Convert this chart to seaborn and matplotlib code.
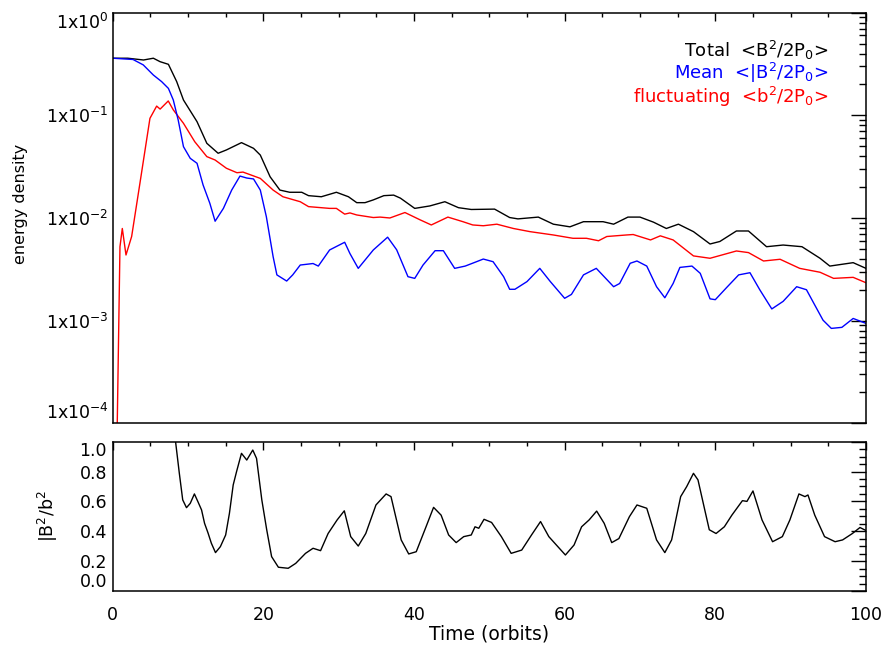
import numpy as np
import matplotlib
matplotlib.use("Agg")
import matplotlib.pyplot as plt
import seaborn as sns
from matplotlib.ticker import FixedLocator, MultipleLocator, LogLocator, FuncFormatter, NullFormatter

sns.set_theme(style="white")
plt.rcParams['font.family'] = ['DejaVu Sans']
plt.rcParams['mathtext.fontset'] = 'dejavusans'
plt.rcParams['text.color'] = 'black'
plt.rcParams['axes.labelcolor'] = 'black'
plt.rcParams['xtick.color'] = 'black'
plt.rcParams['ytick.color'] = 'black'

# ---------------- data ----------------
t_total = [0, 2, 4.1, 5.4, 6.3, 7.4, 8.5, 9.4, 11.2, 12.5, 14.0, 15.1, 17.1, 18.7, 19.6,
           20.9, 22.2, 23.5, 25.1, 26.0, 27.7, 29.7, 31.3, 32.4, 33.5, 34.6, 36.0, 37.3,
           38.2, 40.1, 42.1, 44.1, 45.9, 47.6, 50.7, 52.7, 53.8, 56.5, 58.5, 60.7, 62.5,
           65.1, 66.5, 68.4, 70.0, 71.8, 73.5, 75.1, 77.1, 79.3, 80.6, 82.8, 84.4, 86.8,
           89.0, 91.5, 93.9, 95.2, 98.3, 100]
total = [0.36, 0.36, 0.346, 0.36, 0.333, 0.314, 0.213, 0.141, 0.0867, 0.0534, 0.0427, 0.046,
         0.0542, 0.0477, 0.041, 0.0252, 0.0187, 0.0178, 0.0178, 0.0165, 0.0161, 0.0178,
         0.0161, 0.0141, 0.0141, 0.015, 0.0165, 0.0167, 0.0156, 0.0124, 0.0131, 0.0144,
         0.0126, 0.0121, 0.0122, 0.0101, 0.0098, 0.0102, 0.0087, 0.0082, 0.0092, 0.0092,
         0.0087, 0.0102, 0.0102, 0.0091, 0.0079, 0.0087, 0.00736, 0.00558, 0.0059, 0.00747,
         0.00747, 0.00525, 0.00545, 0.00525, 0.00405, 0.0034, 0.00367, 0.00323]

t_mean = [0, 2.7, 4.06, 5.4, 6.5, 7.4, 8.05, 8.7, 9.4, 10.3, 11.2, 12.0, 12.9, 13.6, 14.7,
          15.8, 16.9, 17.8, 18.7, 19.6, 20.4, 21.3, 21.8, 23.1, 23.9, 24.9, 26.6, 27.3,
          28.8, 30.8, 31.5, 32.6, 34.6, 36.5, 37.7, 39.2, 40.1, 41.2, 42.8, 43.9, 45.4,
          46.8, 48.3, 49.2, 50.5, 51.9, 52.7, 53.4, 55.0, 56.7, 58.1, 60.0, 60.9, 62.5,
          64.2, 66.5, 67.3, 68.7, 69.6, 70.9, 72.2, 73.3, 74.4, 75.3, 76.9, 78.0, 79.3,
          80.0, 81.5, 83.1, 84.6, 85.9, 87.5, 89.0, 90.8, 92.1, 93.2, 94.3, 95.4, 96.8,
          98.3, 100]
mean = [0.36, 0.35, 0.31, 0.247, 0.213, 0.183, 0.141, 0.090, 0.0495, 0.0381, 0.0341, 0.021,
        0.0139, 0.0093, 0.0124, 0.0187, 0.0256, 0.0245, 0.024, 0.0187, 0.0103, 0.0042,
        0.00279, 0.00243, 0.00279, 0.00348, 0.0036, 0.0034, 0.00488, 0.0058, 0.0045,
        0.00323, 0.00488, 0.0065, 0.0049, 0.00268, 0.00258, 0.00348, 0.0048, 0.0048,
        0.00323, 0.0034, 0.00375, 0.00398, 0.00375, 0.00268, 0.00202, 0.00202, 0.0024,
        0.00323, 0.0024, 0.00165, 0.0018, 0.00279, 0.00323, 0.00214, 0.0023, 0.00362,
        0.00381, 0.0034, 0.00214, 0.00167, 0.0023, 0.0033, 0.0034, 0.00289, 0.00163,
        0.0016, 0.0021, 0.00279, 0.00293, 0.002, 0.0013, 0.00154, 0.00214, 0.002, 0.00142,
        0.00101, 0.00084, 0.00086, 0.00105, 0.00094]

t_fluct = [0.5, 0.97, 1.28, 1.77, 2.52, 3.62, 4.95, 5.84, 6.3, 7.38, 8.05, 9.4, 10.9, 12.5,
           13.6, 15.1, 16.5, 17.3, 19.6, 21.3, 22.6, 24.9, 26.0, 28.8, 29.7, 30.8, 31.5,
           32.4, 34.6, 35.5, 36.8, 38.8, 40.8, 42.3, 44.5, 46.5, 47.8, 49.2, 51.0, 53.2,
           55.4, 58.5, 61.1, 62.9, 64.5, 65.6, 68.2, 69.1, 71.4, 72.7, 74.4, 77.1, 79.3,
           82.8, 84.4, 86.4, 88.6, 91.2, 93.9, 95.7, 98.3, 100]
fluct = [3e-5, 0.00525, 0.0079, 0.00436, 0.0066, 0.0218, 0.0935, 0.123, 0.115, 0.138, 0.113,
         0.0836, 0.0553, 0.0396, 0.0367, 0.0305, 0.0276, 0.028, 0.0243, 0.0187, 0.0161,
         0.0144, 0.0129, 0.0124, 0.0124, 0.0109, 0.0112, 0.0107, 0.0101, 0.0102, 0.0100,
         0.0113, 0.0096, 0.00855, 0.0102, 0.0092, 0.00855, 0.0084, 0.0087, 0.0079, 0.00736,
         0.00683, 0.00634, 0.00634, 0.006, 0.0066, 0.00683, 0.0069, 0.00611, 0.0067,
         0.00611, 0.00427, 0.00405, 0.00477, 0.0046, 0.00381, 0.00396, 0.00323, 0.00296,
         0.00258, 0.00264, 0.00234]

t_ratio = [7.5, 8.35, 8.85, 9.3, 9.8, 10.3, 10.85, 11.3, 11.8, 12.2, 12.65, 13.1, 13.65, 14.3,
           15.0, 15.5, 16.0, 16.45, 17.1, 17.8, 18.6, 19.1, 19.8, 20.45, 21.1, 22.0, 23.3,
           24.3, 25.6, 26.6, 27.6, 28.6, 29.8, 30.75, 31.6, 32.6, 33.6, 34.95, 36.3, 36.95,
           38.3, 39.3, 40.3, 41.6, 42.6, 43.6, 44.6, 45.6, 46.6, 47.6, 48.1, 48.6, 49.3,
           50.3, 51.6, 52.9, 54.3, 55.6, 56.8, 57.9, 58.9, 60.1, 61.25, 62.25, 63.25, 64.25,
           65.25, 66.25, 67.2, 68.6, 69.6, 70.9, 72.2, 73.3, 74.2, 75.4, 76.2, 77.1, 77.7,
           78.6, 79.2, 80.1, 81.2, 82.2, 83.6, 84.2, 85.0, 86.2, 87.6, 88.9, 89.9, 91.1,
           91.9, 92.3, 93.2, 94.5, 95.9, 96.9, 98.2, 99.2, 100]
ratio = [1.35, 1.0, 0.788, 0.61, 0.558, 0.587, 0.65, 0.6, 0.543, 0.453, 0.39, 0.32, 0.257,
         0.297, 0.375, 0.52, 0.71, 0.8, 0.922, 0.877, 0.944, 0.888, 0.61, 0.41, 0.23, 0.159,
         0.152, 0.185, 0.252, 0.286, 0.27, 0.385, 0.476, 0.537, 0.364, 0.301, 0.385, 0.576,
         0.65, 0.632, 0.342, 0.248, 0.263, 0.43, 0.56, 0.508, 0.375, 0.324, 0.364, 0.375,
         0.43, 0.42, 0.48, 0.459, 0.364, 0.252, 0.274, 0.375, 0.465, 0.364, 0.308, 0.241,
         0.308, 0.43, 0.476, 0.535, 0.453, 0.324, 0.351, 0.498, 0.576, 0.554, 0.342, 0.257,
         0.342, 0.632, 0.699, 0.788, 0.744, 0.543, 0.41, 0.385, 0.43, 0.508, 0.605, 0.6,
         0.67, 0.476, 0.33, 0.364, 0.476, 0.65, 0.632, 0.643, 0.508, 0.364, 0.33, 0.342,
         0.385, 0.425, 0.405]

legend_labels = [r"Total  <B$^2$/2P$_0$>", r"Mean  <|B$^2$/2P$_0$>", r"fluctuating  <b$^2$/2P$_0$>"]
legend_colors = ["black", "blue", "red"]
ratio_ticks = [0.0, 0.2, 0.4, 0.6, 0.8, 1.0]
decade_ticks = [1e-4, 1e-3, 1e-2, 1e-1, 1e0]
x_ticks = [0, 20, 40, 60, 80, 100]

# ---------------- figure ----------------
fig = plt.figure(figsize=(8.85, 6.5), dpi=100)
fig.patch.set_facecolor("white")
ax1 = fig.add_axes([0.1273, 0.3488, 0.8512, 0.6317])
ax2 = fig.add_axes([0.1273, 0.0908, 0.8512, 0.2297])

LW = 1.0
sns.lineplot(x=t_total, y=total, ax=ax1, color="black", lw=LW, estimator=None, sort=False)
sns.lineplot(x=t_fluct, y=fluct, ax=ax1, color="red", lw=LW, estimator=None, sort=False)
sns.lineplot(x=t_mean, y=mean, ax=ax1, color="blue", lw=LW, estimator=None, sort=False)
sns.lineplot(x=t_ratio, y=ratio, ax=ax2, color="black", lw=LW, estimator=None, sort=False)

for ax in (ax1, ax2):
    ax.set_facecolor("white")
    ax.grid(False)
    for s in ax.spines.values():
        s.set_visible(True)
        s.set_color("black")
        s.set_linewidth(1.1)
    ax.set_xlim(0, 100)
    ax.xaxis.set_major_locator(FixedLocator(x_ticks))
    ax.xaxis.set_minor_locator(MultipleLocator(5))
    ax.tick_params(which="both", direction="in", top=True, right=True, colors="black",
                   labelcolor="black")
    ax.tick_params(axis="x", which="major", length=5.8, width=1.0)
    ax.tick_params(axis="x", which="minor", length=3.0, width=1.0)
    ax.tick_params(axis="y", which="major", length=10.5, width=1.0)
    ax.tick_params(axis="y", which="minor", length=5.0, width=1.0)

# top panel
ax1.set_yscale("log")
ax1.set_ylim(1e-4, 1)
ax1.yaxis.set_major_locator(FixedLocator(decade_ticks))
ax1.yaxis.set_minor_locator(LogLocator(base=10, subs=np.arange(2, 10)))
ax1.yaxis.set_minor_formatter(NullFormatter())
ax1.yaxis.set_major_formatter(FuncFormatter(lambda v, p: r"1x10$^{%d}$" % int(round(np.log10(v)))))
ax1.tick_params(axis="x", labelbottom=False)
ax1.tick_params(axis="y", labelsize=12.5, pad=3)
ax1.set_xlabel("")
ax1.set_ylabel("energy density", fontsize=11.5, color="black")
ax1.yaxis.set_label_coords(-0.112, 0.534)

for lab, col, yy in zip(legend_labels, legend_colors, [0.891, 0.838, 0.781]):
    ax1.text(0.9496, yy, lab, color=col, fontsize=13, ha="right", va="baseline",
             transform=ax1.transAxes)

# bottom panel
ax2.set_ylim(0, 1)
ax2.yaxis.set_major_locator(FixedLocator(ratio_ticks))
ax2.yaxis.set_minor_locator(MultipleLocator(0.05))
ax2.yaxis.set_major_formatter(FuncFormatter(lambda v, p: "%.1f" % v))
ax2.tick_params(axis="y", labelsize=12.5, pad=4)
ax2.tick_params(axis="x", labelsize=12.5, pad=11)
ax2.set_xlabel("Time (orbits)", fontsize=13.5, color="black")
ax2.xaxis.set_label_coords(0.5, -0.225)
ax2.set_ylabel(r"|B$^2$/b$^2$", fontsize=12.5, color="black")
ax2.yaxis.set_label_coords(-0.07, 0.5)

# keep end labels inside the axis range
t1 = ax1.yaxis.get_major_ticks()
t1[0].label1.set_va("bottom")
t1[-1].label1.set_va("top")
t2 = ax2.yaxis.get_major_ticks()
t2[0].label1.set_va("bottom")
t2[-1].label1.set_va("top")

fig.savefig("out.png", dpi=100, facecolor="white")
